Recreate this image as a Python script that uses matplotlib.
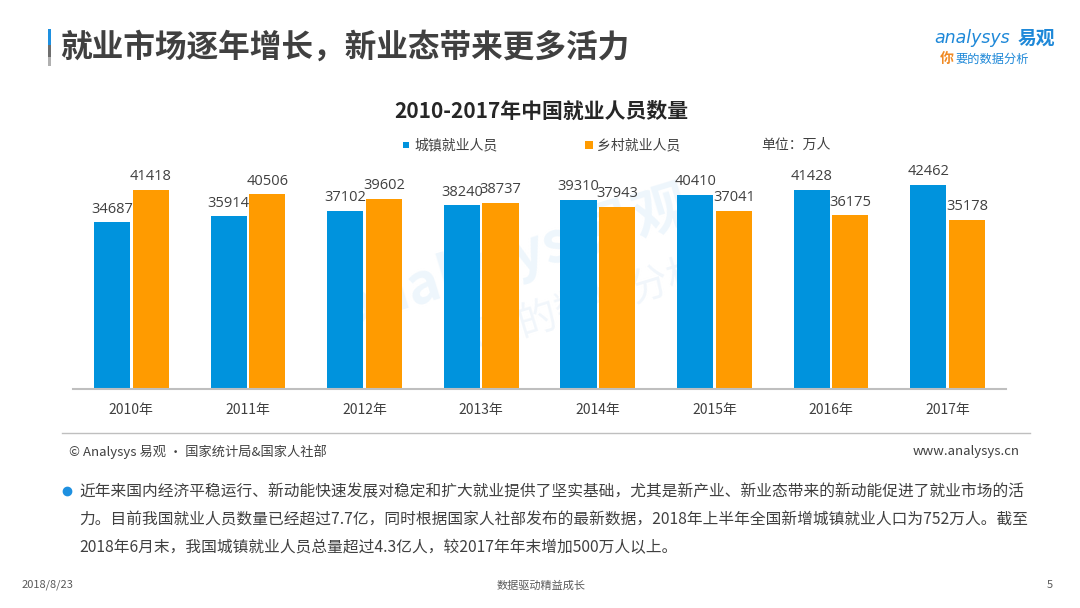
import matplotlib
matplotlib.use("Agg")
import matplotlib.pyplot as plt
import numpy as np
from matplotlib.patches import Rectangle

plt.rcParams['font.family'] = ['Noto Sans CJK SC', 'DejaVu Sans']

# ---- data ----
years = ["2010年", "2011年", "2012年", "2013年", "2014年", "2015年", "2016年", "2017年"]
urban = [34687, 35914, 37102, 38240, 39310, 40410, 41428, 42462]
rural = [41418, 40506, 39602, 38737, 37943, 37041, 36175, 35178]
series_names = ["城镇就业人员", "乡村就业人员"]
unit_text = "单位：万人"
page_title = "就业市场逐年增长，新业态带来更多活力"
chart_title = "2010-2017年中国就业人员数量"
source_left = "© Analysys 易观 · 国家统计局&国家人社部"
source_right = "www.analysys.cn"
para_lines = [
    "近年来国内经济平稳运行、新动能快速发展对稳定和扩大就业提供了坚实基础，尤其是新产业、新业态带来的新动能促进了就业市场的活",
    "力。目前我国就业人员数量已经超过7.7亿，同时根据国家人社部发布的最新数据，2018年上半年全国新增城镇就业人口为752万人。截至",
    "2018年6月末，我国城镇就业人员总量超过4.3亿人，较2017年年末增加500万人以上。",
]
footer_left = "2018/8/23"
footer_mid = "数据驱动精益成长"
footer_right = "5"

BLUE = "#0093DD"
ORANGE = "#FF9B00"
TXT = "#404040"

W, H = 1080, 608
fig = plt.figure(figsize=(W / 100, H / 100), dpi=100)

def fx(px):
    return px / W

def fy(py):
    return 1 - py / H

# ---- chart axes ----
ax_left, ax_right, ax_top, ax_bot = 73, 1006, 160, 389
ax = fig.add_axes([fx(ax_left), fy(ax_bot), fx(ax_right - ax_left), (ax_bot - ax_top) / H])
ax.patch.set_alpha(0)
x = np.arange(len(years))
bw = 0.31
off = 0.166
b1 = ax.bar(x - off, urban, bw, color=BLUE, zorder=2)
b2 = ax.bar(x + off, rural, bw, color=ORANGE, zorder=2)
ax.bar_label(b1, labels=[str(v) for v in urban], padding=4, fontsize=10.5, color=TXT, family='Open Sans')
ax.bar_label(b2, labels=[str(v) for v in rural], padding=4, fontsize=10.5, color=TXT, family='Open Sans')
ax.set_xlim(-0.5, len(years) - 0.5)
ax.set_ylim(0, (ax_bot - ax_top) * 208)
ax.set_xticks(x)
ax.set_xticklabels(years, fontsize=10, color=TXT)
ax.set_yticks([])
ax.tick_params(axis='x', length=0, pad=10)
for s in ['top', 'right', 'left']:
    ax.spines[s].set_visible(False)
ax.spines['bottom'].set_color('#BFBFBF')
ax.spines['bottom'].set_linewidth(1.5)

# watermark (behind bars)
ax.text(fx(515), fy(258), "analysys 易观", transform=fig.transFigure, fontsize=40,
        color="#EEF6FC", rotation=17, ha='center', va='center', zorder=0.5, fontweight='bold')
ax.text(fx(575), fy(308), "你要的数据分析", transform=fig.transFigure, fontsize=28,
        color="#F1F6FB", rotation=17, ha='center', va='center', zorder=0.5)

# ---- page title & accent bar ----
fig.patches.append(Rectangle((fx(48), fy(45)), fx(3), (45 - 29) / H, transform=fig.transFigure,
                             color="#1E90E0", lw=0))
fig.patches.append(Rectangle((fx(48), fy(57)), fx(3), (57 - 45) / H, transform=fig.transFigure,
                             color="#6E6E6E", lw=0))
fig.patches.append(Rectangle((fx(48), fy(66)), fx(3), (66 - 57) / H, transform=fig.transFigure,
                             color="#B0B0B0", lw=0))
fig.text(fx(60), fy(48), page_title, fontsize=22.8, fontweight='bold', color="#404040",
         ha='left', va='center')

# logo
fig.text(fx(1010), fy(38), "analysys", fontsize=12.5, color="#1E88D8", ha='right', va='center',
         style='italic', family='DejaVu Sans')
fig.text(fx(1055), fy(38), "易观", fontsize=13.5, color="#1E88D8", ha='right', va='center', fontweight='bold')
fig.text(fx(940), fy(59), "你", fontsize=10, color="#F08A24", ha='left', va='center', fontweight='bold')
fig.text(fx(955), fy(59), "要的数据分析", fontsize=8.8, color="#1E88D8", ha='left', va='center')

# chart title and legend
fig.text(fx(541), fy(111), chart_title, fontsize=15, fontweight='bold', color="#262626",
         ha='center', va='center')
fig.patches.append(Rectangle((fx(403), fy(148)), fx(6), 6 / H, transform=fig.transFigure, color=BLUE, lw=0))
fig.text(fx(414), fy(145), series_names[0], fontsize=10, color=TXT, ha='left', va='center')
fig.patches.append(Rectangle((fx(585), fy(149)), fx(8), 8 / H, transform=fig.transFigure, color=ORANGE, lw=0))
fig.text(fx(597), fy(145), series_names[1], fontsize=10, color=TXT, ha='left', va='center')
fig.text(fx(761), fy(145), unit_text, fontsize=10, color=TXT, ha='left', va='center')

# separator & source
fig.add_artist(plt.Line2D([fx(62), fx(1030)], [fy(433), fy(433)], color='#BFBFBF', lw=1))
fig.text(fx(69), fy(452), source_left, fontsize=9.5, color=TXT, ha='left', va='center')
fig.text(fx(1020), fy(452), source_right, fontsize=9.5, color=TXT, ha='right', va='center')

# paragraph
fig.add_artist(plt.Line2D([fx(67)], [fy(491)], marker='o', markersize=6, color="#1E90E0", lw=0))
for i, line in enumerate(para_lines):
    fig.text(fx(79), fy(492 + 28 * i), line, fontsize=11.3, color=TXT, ha='left', va='center')

# footer
fig.text(fx(22), fy(585), footer_left, fontsize=8, color="#595959", ha='left', va='center')
fig.text(fx(541), fy(586), footer_mid, fontsize=8, color="#595959", ha='center', va='center')
fig.text(fx(1053), fy(585), footer_right, fontsize=8, color="#595959", ha='right', va='center')

fig.savefig("out.png", dpi=100)
